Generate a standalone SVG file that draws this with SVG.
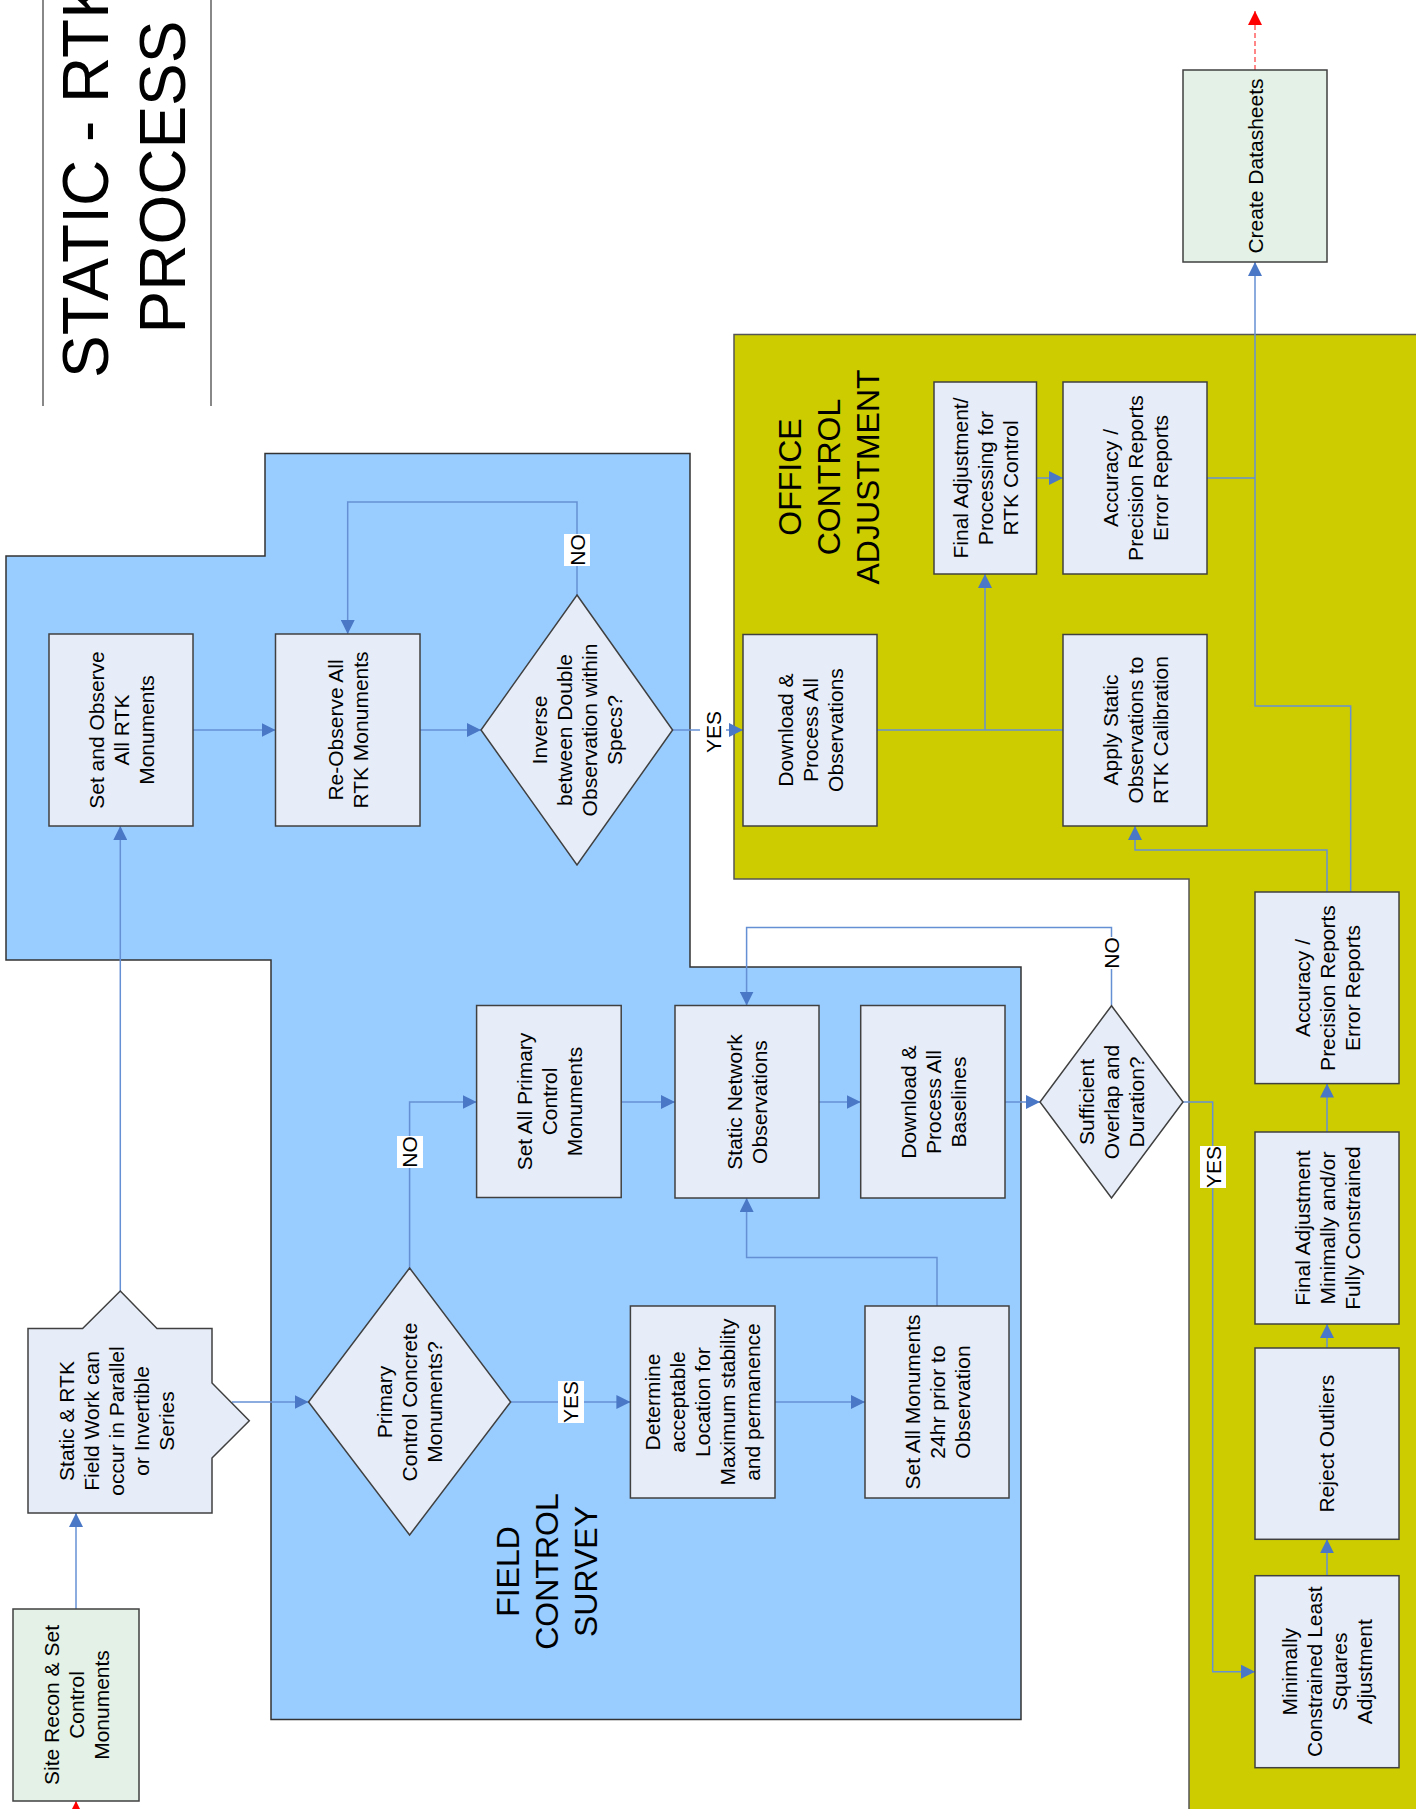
<svg xmlns="http://www.w3.org/2000/svg" width="1416" height="1809" viewBox="0 0 1416 1809">
<style>
.node{fill:#e6edf8;stroke:#404040;stroke-width:1.5}
.green{fill:#e3f1e6}
.t{font-family:"Liberation Sans",Arial,sans-serif;font-size:21px;fill:#000;text-anchor:middle}
.sec{font-family:"Liberation Sans",Arial,sans-serif;font-size:32px;fill:#000;text-anchor:middle}
.title{font-family:"Liberation Sans",Arial,sans-serif;font-size:64px;fill:#000;text-anchor:middle}
.conn{fill:none;stroke:#6690d4;stroke-width:1.5}
.red{fill:none;stroke:#ff6060;stroke-width:1.5;stroke-dasharray:5,3}
.lbl{fill:#fff}
</style>
<defs>
<marker id="arr" markerUnits="userSpaceOnUse" markerWidth="14" markerHeight="14" refX="14" refY="7" orient="auto">
<path d="M0,0 L14,7 L0,14 z" fill="#4a78c6"/>
</marker>
<marker id="arrRed" markerUnits="userSpaceOnUse" markerWidth="14" markerHeight="14" refX="14" refY="7" orient="auto">
<path d="M0,0 L14,7 L0,14 z" fill="#ff0000"/>
</marker>
</defs>
<rect width="1416" height="1809" fill="#fff"/>

<g id="title">
<line x1="43" y1="0" x2="43" y2="406" stroke="#888" stroke-width="2"/>
<line x1="211" y1="0" x2="211" y2="406" stroke="#888" stroke-width="2"/>
<text class="title" transform="rotate(-90 127 177)"><tspan x="127" y="158">STATIC - RTK</tspan><tspan x="127" y="235">PROCESS</tspan></text>
</g>

<g id="regions">
<path d="M265,453.5 L690,453.5 L690,967 L1021,967 L1021,1719.5 L271,1719.5 L271,960 L6,960 L6,556 L265,556 Z" fill="#99ccff" stroke="#333" stroke-width="1.5"/>
<path d="M734,334.5 L1420,334.5 L1420,1812 L1189,1812 L1189,879 L734,879 Z" fill="#cccc00" stroke="#555" stroke-width="1.5"/>
<text class="sec" transform="rotate(-90 547 1571.5)"><tspan x="547" y="1543.5">FIELD</tspan><tspan x="547" y="1582.5">CONTROL</tspan><tspan x="547" y="1621.5">SURVEY</tspan></text>
<text class="sec" transform="rotate(-90 828.5 477)"><tspan x="828.5" y="449.9">OFFICE</tspan><tspan x="828.5" y="488.5">CONTROL</tspan><tspan x="828.5" y="527.5">ADJUSTMENT</tspan></text>
</g>

<g id="connectors">
<path class="conn" d="M76,1609 L76,1513" marker-end="url(#arr)"/>
<path class="red" d="M76,1812 L76,1801" marker-end="url(#arrRed)"/>
<path class="conn" d="M120.3,1291 L120.3,826" marker-end="url(#arr)"/>
<path class="conn" d="M193,730 L275.5,730" marker-end="url(#arr)"/>
<path class="conn" d="M420,730 L481,730" marker-end="url(#arr)"/>
<path class="conn" d="M577,595 L577,502 L347.7,502 L347.7,634" marker-end="url(#arr)"/>
<path class="conn" d="M672.6,730 L743,730" marker-end="url(#arr)"/>
<path class="conn" d="M877,730 L1063,730"/>
<path class="conn" d="M985,730 L985,574" marker-end="url(#arr)"/>
<path class="conn" d="M1036.5,478 L1063,478" marker-end="url(#arr)"/>
<path class="conn" d="M1207,478 L1255,478"/>
<path class="conn" d="M1350.7,892 L1350.7,706 L1255,706 L1255,262" marker-end="url(#arr)"/>
<path class="conn" d="M1327,892 L1327,850 L1135,850 L1135,826" marker-end="url(#arr)"/>
<path class="red" d="M1255,70 L1255,11" marker-end="url(#arrRed)"/>
<path class="conn" d="M232,1402 L308.5,1402" marker-end="url(#arr)"/>
<path class="conn" d="M409.6,1268 L409.6,1102 L476.6,1102" marker-end="url(#arr)"/>
<path class="conn" d="M510.6,1402 L630.4,1402" marker-end="url(#arr)"/>
<path class="conn" d="M621.2,1102 L675,1102" marker-end="url(#arr)"/>
<path class="conn" d="M775,1402 L865,1402" marker-end="url(#arr)"/>
<path class="conn" d="M937,1306 L937,1257.5 L746.6,1257.5 L746.6,1198" marker-end="url(#arr)"/>
<path class="conn" d="M819,1102 L860.7,1102" marker-end="url(#arr)"/>
<path class="conn" d="M1005,1102 L1040,1102" marker-end="url(#arr)"/>
<path class="conn" d="M1111.5,1005.7 L1111.5,927.5 L746.6,927.5 L746.6,1005.5" marker-end="url(#arr)"/>
<path class="conn" d="M1183,1102 L1212.7,1102 L1212.7,1671.7 L1255,1671.7" marker-end="url(#arr)"/>
<path class="conn" d="M1327,1575.7 L1327,1539.3" marker-end="url(#arr)"/>
<path class="conn" d="M1327,1348 L1327,1324" marker-end="url(#arr)"/>
<path class="conn" d="M1327,1132 L1327,1083.6" marker-end="url(#arr)"/>
</g>

<g id="site-recon">
<rect class="node green" x="13" y="1609" width="126" height="192"/>
<text class="t" transform="rotate(-90 76 1705)"><tspan x="76" y="1687.5">Site Recon &amp; Set</tspan><tspan x="76" y="1712.5">Control</tspan><tspan x="76" y="1737.5">Monuments</tspan></text>
</g>
<g id="static-rtk">
<path class="node" d="M28,1328.6 L82.6,1328.6 L120.3,1291 L157,1328.6 L212,1328.6 L212,1383 L249.3,1420.7 L212,1458 L212,1513 L28,1513 Z"/>
<text class="t" transform="rotate(-90 116 1421)"><tspan x="116" y="1378.5">Static &amp; RTK</tspan><tspan x="116" y="1403.5">Field Work can</tspan><tspan x="116" y="1428.5">occur in Parallel</tspan><tspan x="116" y="1453.5">or Invertible</tspan><tspan x="116" y="1478.5">Series</tspan></text>
</g>
<g id="set-observe">
<rect class="node" x="49" y="634" width="144" height="192"/>
<text class="t" transform="rotate(-90 121 730)"><tspan x="121" y="712.5">Set and Observe</tspan><tspan x="121" y="737.5">All RTK</tspan><tspan x="121" y="762.5">Monuments</tspan></text>
</g>
<g id="re-observe">
<rect class="node" x="275.5" y="634" width="144.5" height="192"/>
<text class="t" transform="rotate(-90 347.7 730)"><tspan x="347.7" y="725">Re-Observe All</tspan><tspan x="347.7" y="750">RTK Monuments</tspan></text>
</g>
<g id="inverse-decision">
<path class="node" d="M577,595 L672.6,730 L577,865 L481,730 Z"/>
<text class="t" transform="rotate(-90 577 730)"><tspan x="577" y="700">Inverse</tspan><tspan x="577" y="725">between Double</tspan><tspan x="577" y="750">Observation within</tspan><tspan x="577" y="775">Specs?</tspan></text>
</g>
<g id="download-obs">
<rect class="node" x="743" y="634.5" width="134" height="191.5"/>
<text class="t" transform="rotate(-90 810 730)"><tspan x="810" y="712.5">Download &amp;</tspan><tspan x="810" y="737.5">Process All</tspan><tspan x="810" y="762.5">Observations</tspan></text>
</g>
<g id="final-rtk">
<rect class="node" x="934" y="382" width="102.5" height="192"/>
<text class="t" transform="rotate(-90 985 478)"><tspan x="985" y="460.5">Final Adjustment/</tspan><tspan x="985" y="485.5">Processing for</tspan><tspan x="985" y="510.5">RTK Control</tspan></text>
</g>
<g id="accuracy-top">
<rect class="node" x="1063" y="382" width="144" height="192"/>
<text class="t" transform="rotate(-90 1135 478)"><tspan x="1135" y="460.5">Accuracy /</tspan><tspan x="1135" y="485.5">Precision Reports</tspan><tspan x="1135" y="510.5">Error Reports</tspan></text>
</g>
<g id="apply-static">
<rect class="node" x="1063" y="634.5" width="144" height="191.5"/>
<text class="t" transform="rotate(-90 1135 730)"><tspan x="1135" y="712.5">Apply Static</tspan><tspan x="1135" y="737.5">Observations to</tspan><tspan x="1135" y="762.5">RTK Calibration</tspan></text>
</g>
<g id="create-datasheets">
<rect class="node green" x="1183" y="70" width="144" height="192"/>
<text class="t" transform="rotate(-90 1255 166)"><tspan x="1255" y="173.5">Create Datasheets</tspan></text>
</g>
<g id="set-primary">
<rect class="node" x="476.6" y="1005.5" width="144.6" height="192"/>
<text class="t" transform="rotate(-90 549 1101.5)"><tspan x="549" y="1084">Set All Primary</tspan><tspan x="549" y="1109">Control</tspan><tspan x="549" y="1134">Monuments</tspan></text>
</g>
<g id="static-network">
<rect class="node" x="675" y="1005.5" width="144" height="192.5"/>
<text class="t" transform="rotate(-90 747 1102)"><tspan x="747" y="1097">Static Network</tspan><tspan x="747" y="1122">Observations</tspan></text>
</g>
<g id="download-baselines">
<rect class="node" x="860.7" y="1005.5" width="144.3" height="192.5"/>
<text class="t" transform="rotate(-90 933 1102)"><tspan x="933" y="1084.5">Download &amp;</tspan><tspan x="933" y="1109.5">Process All</tspan><tspan x="933" y="1134.5">Baselines</tspan></text>
</g>
<g id="sufficient-decision">
<path class="node" d="M1111.5,1005.7 L1183,1102 L1111.5,1198 L1040,1102 Z"/>
<text class="t" transform="rotate(-90 1111.5 1102)"><tspan x="1111.5" y="1084.5">Sufficient</tspan><tspan x="1111.5" y="1109.5">Overlap and</tspan><tspan x="1111.5" y="1134.5">Duration?</tspan></text>
</g>
<g id="primary-decision">
<path class="node" d="M409.6,1268 L510.6,1402 L409.6,1535 L308.5,1402 Z"/>
<text class="t" transform="rotate(-90 409.6 1402)"><tspan x="409.6" y="1384.5">Primary</tspan><tspan x="409.6" y="1409.5">Control Concrete</tspan><tspan x="409.6" y="1434.5">Monuments?</tspan></text>
</g>
<g id="determine">
<rect class="node" x="630.4" y="1306" width="144.6" height="192"/>
<text class="t" transform="rotate(-90 702.7 1402)"><tspan x="702.7" y="1359.5">Determine</tspan><tspan x="702.7" y="1384.5">acceptable</tspan><tspan x="702.7" y="1409.5">Location for</tspan><tspan x="702.7" y="1434.5">Maximum stability</tspan><tspan x="702.7" y="1459.5">and permanence</tspan></text>
</g>
<g id="set-24hr">
<rect class="node" x="865" y="1306" width="144" height="192"/>
<text class="t" transform="rotate(-90 937 1402)"><tspan x="937" y="1384.5">Set All Monuments</tspan><tspan x="937" y="1409.5">24hr prior to</tspan><tspan x="937" y="1434.5">Observation</tspan></text>
</g>
<g id="accuracy-lower">
<rect class="node" x="1255" y="892" width="144" height="191.6"/>
<text class="t" transform="rotate(-90 1327 988)"><tspan x="1327" y="970.5">Accuracy /</tspan><tspan x="1327" y="995.5">Precision Reports</tspan><tspan x="1327" y="1020.5">Error Reports</tspan></text>
</g>
<g id="final-constrained">
<rect class="node" x="1255" y="1132" width="144" height="192"/>
<text class="t" transform="rotate(-90 1327 1228)"><tspan x="1327" y="1210.5">Final Adjustment</tspan><tspan x="1327" y="1235.5">Minimally and/or</tspan><tspan x="1327" y="1260.5">Fully Constrained</tspan></text>
</g>
<g id="reject-outliers">
<rect class="node" x="1255" y="1348" width="144" height="191.3"/>
<text class="t" transform="rotate(-90 1327 1443.7)"><tspan x="1327" y="1451.2">Reject Outliers</tspan></text>
</g>
<g id="minimally">
<rect class="node" x="1255" y="1575.7" width="144" height="192"/>
<text class="t" transform="rotate(-90 1327 1671.7)"><tspan x="1327" y="1641.7">Minimally</tspan><tspan x="1327" y="1666.7">Constrained Least</tspan><tspan x="1327" y="1691.7">Squares</tspan><tspan x="1327" y="1716.7">Adjustment</tspan></text>
</g>

<g id="labels">
<rect class="lbl" x="564" y="534" width="26" height="32"/>
<text class="t" transform="rotate(-90 577 550)"><tspan x="577" y="557.5">NO</tspan></text>
<rect class="lbl" x="700" y="711" width="26" height="42"/>
<text class="t" transform="rotate(-90 713 732)"><tspan x="713" y="739.5">YES</tspan></text>
<rect class="lbl" x="397" y="1136" width="26" height="32"/>
<text class="t" transform="rotate(-90 409.6 1152)"><tspan x="409.6" y="1159.5">NO</tspan></text>
<rect class="lbl" x="558" y="1381" width="26" height="42"/>
<text class="t" transform="rotate(-90 570.7 1402)"><tspan x="570.7" y="1409.5">YES</tspan></text>
<rect class="lbl" x="1098.5" y="937" width="26" height="32"/>
<text class="t" transform="rotate(-90 1111.5 953)"><tspan x="1111.5" y="960.5">NO</tspan></text>
<rect class="lbl" x="1200" y="1146" width="26" height="42"/>
<text class="t" transform="rotate(-90 1213 1167)"><tspan x="1213" y="1174.5">YES</tspan></text>
</g>
</svg>
